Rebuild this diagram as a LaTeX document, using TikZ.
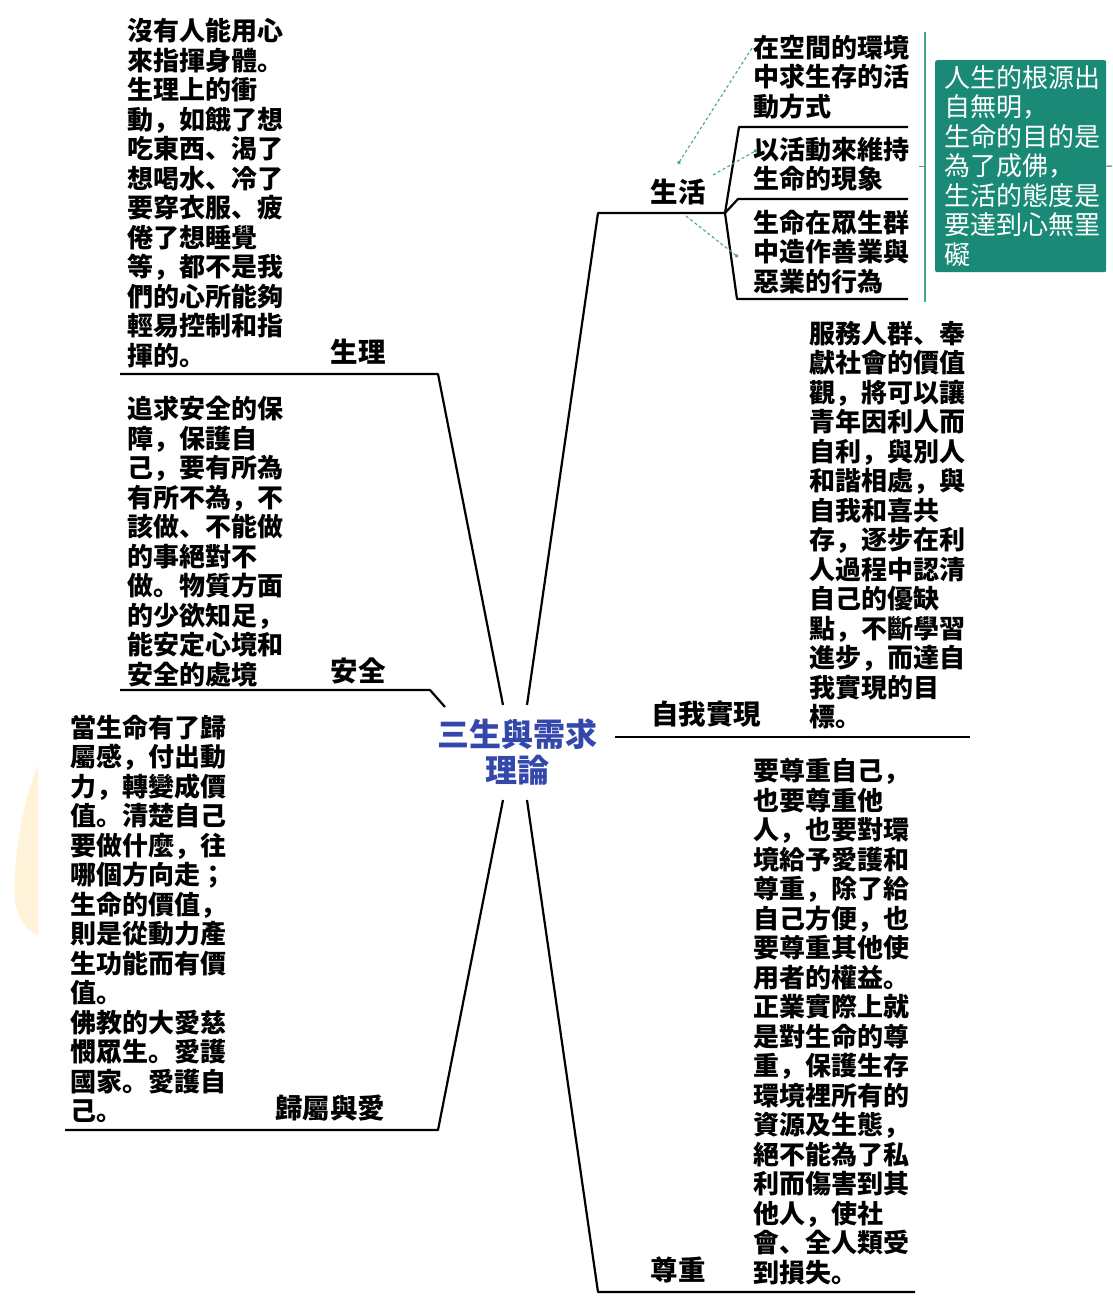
\documentclass[tikz,border=0pt]{standalone}
\usepackage{fontspec}
\newfontfamily\cjk{Noto Sans CJK JP}
\usetikzlibrary{arrows.meta}
\definecolor{tealbox}{RGB}{26,138,118}
\definecolor{tealline}{RGB}{70,165,145}
\definecolor{titleblue}{RGB}{52,72,172}
\definecolor{wm}{RGB}{255,244,218}
\tikzset{
  body/.style={anchor=north west, inner sep=0pt, align=left, font=\cjk\bfseries\fontsize{26}{29.5}\selectfont},
  lab/.style={inner sep=0pt, font=\cjk\bfseries\fontsize{27.5}{30}\selectfont},
  branch/.style={line width=2.2pt, line join=round},
  hint/.style={tealline, line width=1.1pt, dash pattern=on 3pt off 2.5pt},
  hinttip/.style={-{Circle[length=3.5pt]}},
}
\begin{document}
\begin{tikzpicture}[x=1pt,y=-1pt]
\useasboundingbox (0,0) rectangle (1112,1304);
\fill[white] (0,0) rectangle (1112,1304);
% faint watermark
\fill[wm] (38,765) .. controls (22,800) and (12,870) .. (15,900) .. controls (18,922) and (30,933) .. (38,935) -- cycle;

% coordinates of the branches
\coordinate (cUL) at (503,705);
\coordinate (cUR) at (527,705);
\coordinate (cLL) at (503,800);
\coordinate (cLR) at (527,800);
\coordinate (cL) at (445,707);
\coordinate (cR) at (615,737);

\coordinate (k1) at (438,374);   \coordinate (e1) at (120,374);
\coordinate (k2) at (430,690);   \coordinate (e2) at (120,690);
\coordinate (k3) at (438,1130);  \coordinate (e3) at (65,1130);
\coordinate (k4) at (598,213);   \coordinate (e4) at (725,213);
\coordinate (e5) at (970,737);
\coordinate (k6) at (598,1292);  \coordinate (e6) at (915,1292);

\coordinate (s1a) at (739,127); \coordinate (s1b) at (908,127);
\coordinate (s2a) at (738,199); \coordinate (s2b) at (908,199);
\coordinate (s3a) at (737,299); \coordinate (s3b) at (908,299);

% branch lines
\draw[branch] (cUL) -- (k1) -- (e1);
\draw[branch] (cL) -- (k2) -- (e2);
\draw[branch] (cLL) -- (k3) -- (e3);
\draw[branch] (cUR) -- (k4) -- (e4);
\draw[branch] (cR) -- (e5);
\draw[branch] (cLR) -- (k6) -- (e6);
\draw[branch] (e4) -- (s1a) -- (s1b);
\draw[branch] (e4) -- (s2a) -- (s2b);
\draw[branch] (e4) -- (s3a) -- (s3b);

% central title
\node[inner sep=0pt, align=center, text=titleblue, font=\cjk\bfseries\fontsize{32}{36}\selectfont] (title) at (517,752) {三生與需求\\理論};

% labels
\node[lab] (lshengli) at (358,352) {生理};
\node[lab] (lanquan) at (358,671) {安全};
\node[lab] (lguishu) at (330,1108) {歸屬與愛};
\node[lab] (lshenghuo) at (678,192) {生活};
\node[lab] (lziwo) at (706,714) {自我實現};
\node[lab] (lzunzhong) at (678,1270) {尊重};

% body texts
\node[body] (tshengli) at (127,18) {沒有人能用心\\來指揮身體。\\生理上的衝\\動，如餓了想\\吃東西、渴了\\想喝水、冷了\\要穿衣服、疲\\倦了想睡覺\\等，都不是我\\們的心所能夠\\輕易控制和指\\揮的。};

\node[body] (tanquan) at (127,396) {追求安全的保\\障，保護自\\己，要有所為\\有所不為，不\\該做、不能做\\的事絕對不\\做。物質方面\\的少欲知足，\\能安定心境和\\安全的處境};

\node[body] (tguishu) at (70,715) {當生命有了歸\\屬感，付出動\\力，轉變成價\\值。清楚自己\\要做什麼，往\\哪個方向走；\\生命的價值，\\則是從動力產\\生功能而有價\\值。\\佛教的大愛慈\\憫眾生。愛護\\國家。愛護自\\己。};

\node[body] (tziwo) at (809,321) {服務人群、奉\\獻社會的價值\\觀，將可以讓\\青年因利人而\\自利，與別人\\和諧相處，與\\自我和喜共\\存，逐步在利\\人過程中認清\\自己的優缺\\點，不斷學習\\進步，而達自\\我實現的目\\標。};

\node[body] (tzunzhong) at (753,758) {要尊重自己，\\也要尊重他\\人，也要對環\\境給予愛護和\\尊重，除了給\\自己方便，也\\要尊重其他使\\用者的權益。\\正業實際上就\\是對生命的尊\\重，保護生存\\環境裡所有的\\資源及生態，\\絕不能為了私\\利而傷害到其\\他人，使社\\會、全人類受\\到損失。};

\node[body] (sub1) at (753,35) {在空間的環境\\中求生存的活\\動方式};
\node[body] (sub2) at (753,137) {以活動來維持\\生命的現象};
\node[body] (sub3) at (753,210) {生命在眾生群\\中造作善業與\\惡業的行為};

% teal bracket and summary box
\coordinate (vt) at (925,32);
\coordinate (vb) at (925,302);
\coordinate (vm) at (925,166);
\coordinate (vmL) at (919,166);
\draw[tealline, line width=1.6pt] (vt) -- (vb);
\draw[tealline, line width=1pt] (vmL) -- (vm);
\node[anchor=north west, minimum width=171pt, minimum height=212pt, inner sep=0pt, fill=tealbox, rounded corners=2pt] (box) at (935,60) {};
\node[anchor=north west, inner sep=0pt, align=left, text=white, font=\cjk\fontsize{26}{29.5}\selectfont] (boxtext) at (944,65) {人生的根源出\\自無明，\\生命的目的是\\為了成佛，\\生活的態度是\\要達到心無罣\\礙};
\coordinate (bxr) at (1112,166);
\draw[gray!70!black, line width=1pt] (box.east) -- (bxr);

% dashed hint connectors
\coordinate (h1a) at (752,48);
\coordinate (h1b) at (678,164);
\coordinate (h2a) at (713,175);
\coordinate (h2b) at (757,150);
\coordinate (h3a) at (686,216);
\coordinate (h3b) at (738,257);
\draw[hint, hinttip] (h1a) -- (h1b);
\draw[hint, hinttip] (h2a) -- (h2b);
\draw[hint, hinttip] (h3a) -- (h3b);
\end{tikzpicture}
\end{document}
